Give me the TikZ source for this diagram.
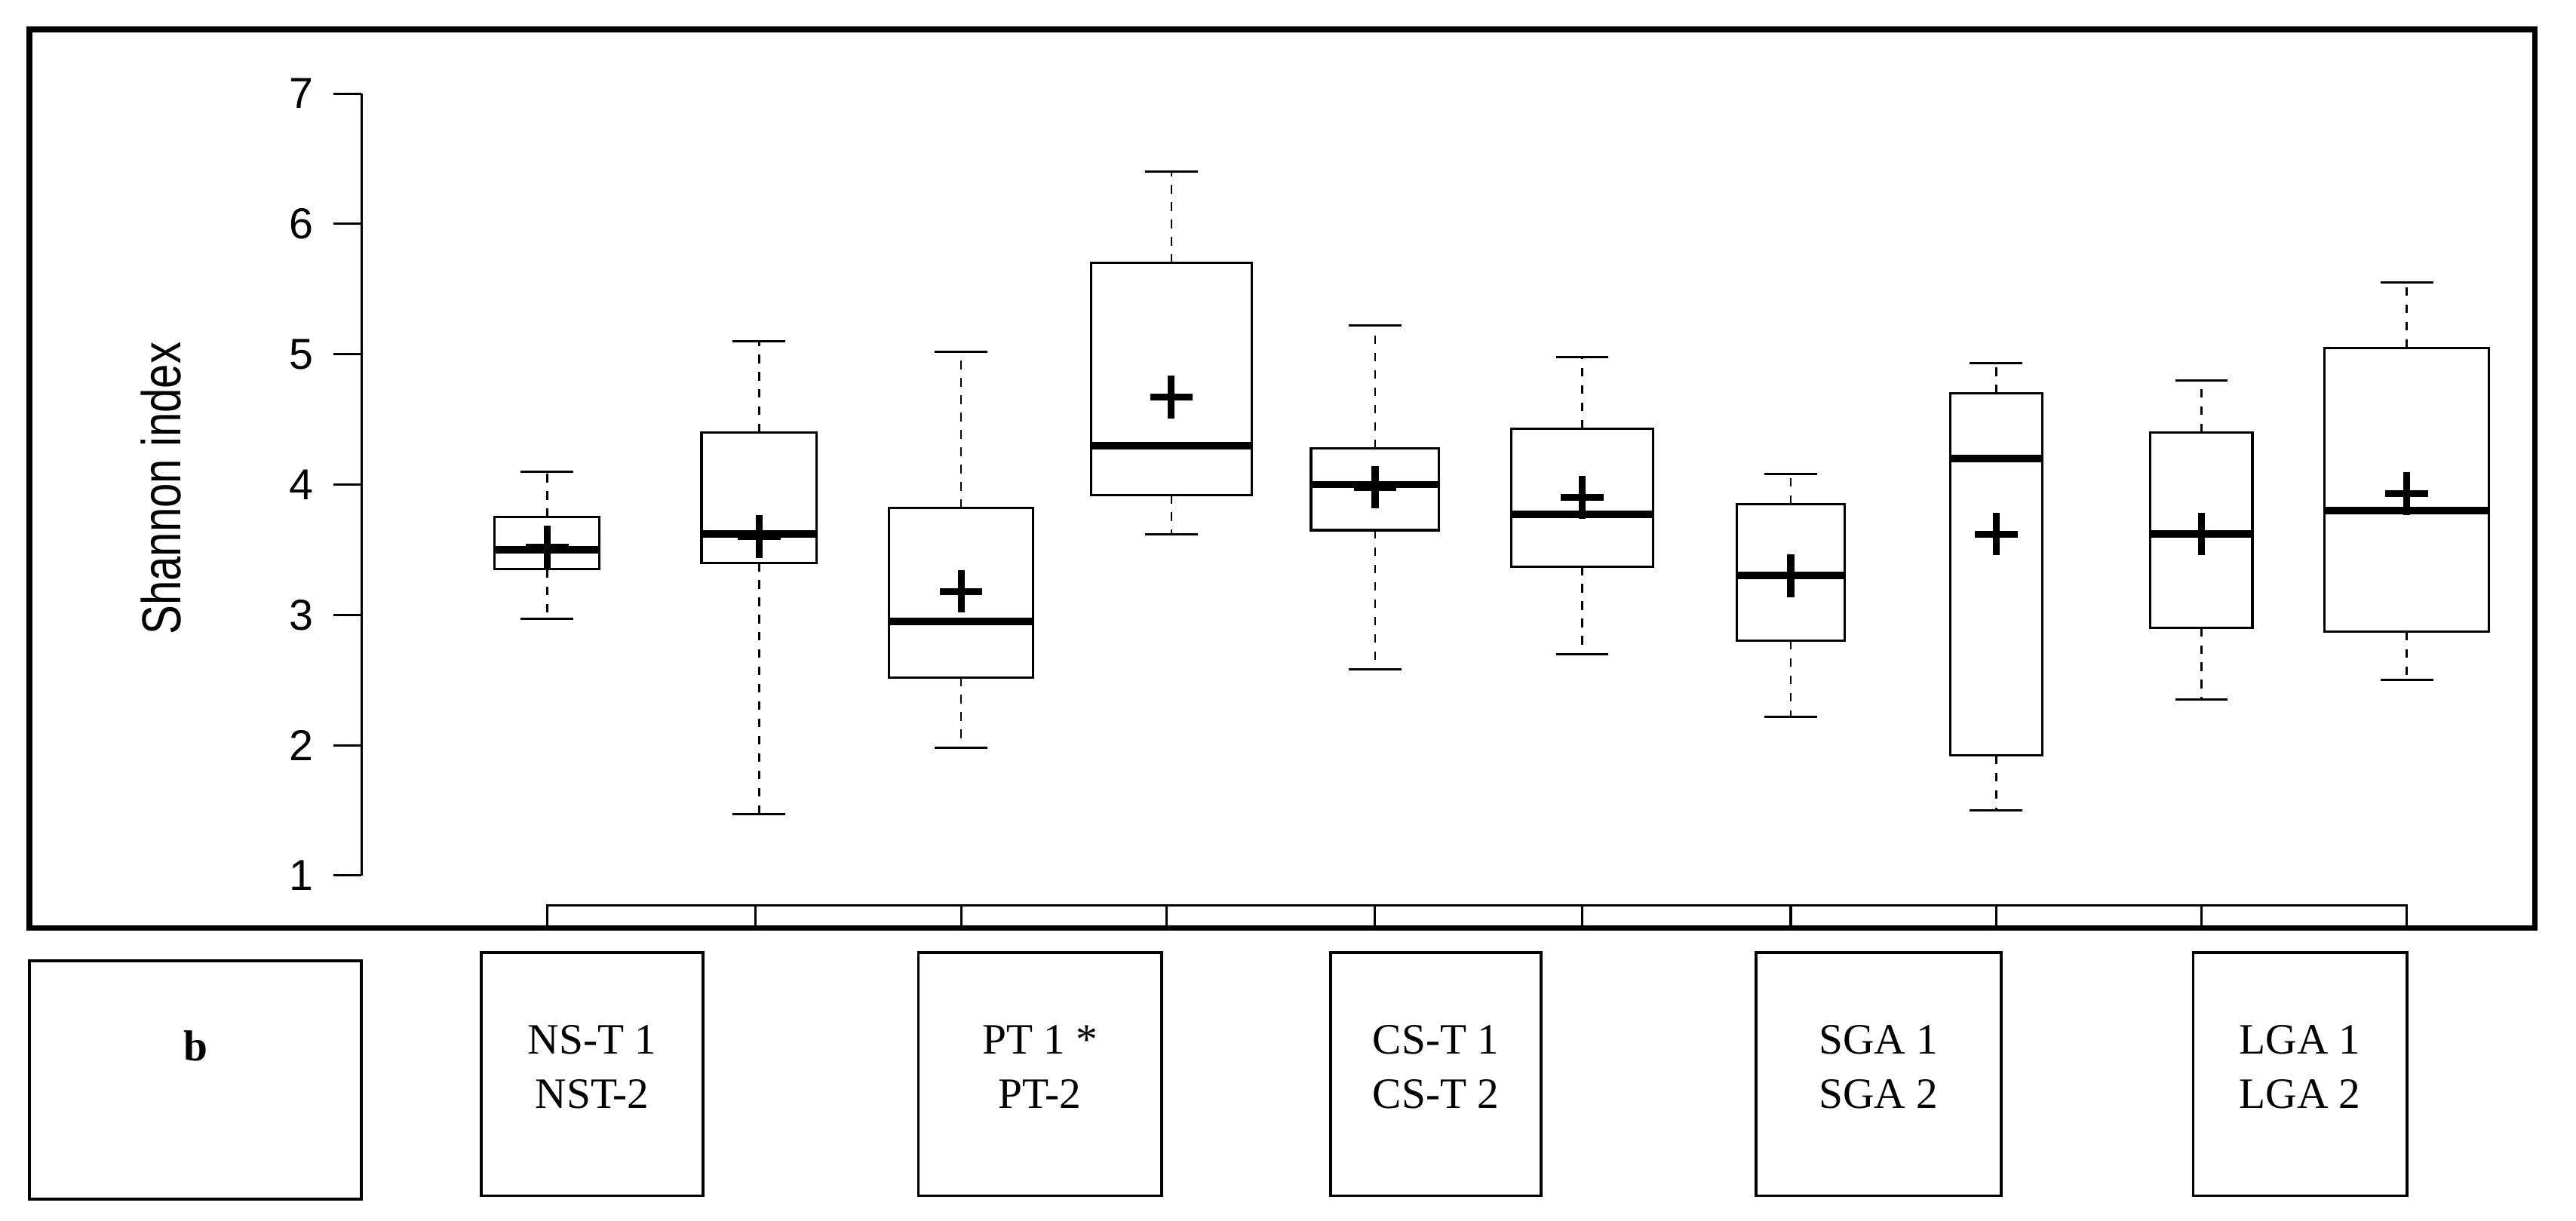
\documentclass[tikz,border=0pt]{standalone}
\usepackage{fontspec}
\setmainfont{Liberation Serif}
\setsansfont{Liberation Sans}
\begin{document}
\begin{tikzpicture}[x=0.02cm,y=-0.02cm,
  declare function={yp(\v)=533-(\v-1)*79.333;},
  bx/.style={draw,line width=0.8pt},
  lab/.style={draw,line width=1pt},
  med/.style={line width=2.6pt},
  wh/.style={dashed,line width=0.7pt},
  mn/.style={line width=2.4pt}]
\useasboundingbox (0,0) rectangle (1568,743);
\draw[line width=2pt] (18,18) rectangle (1543,565);
% axis
\draw[line width=0.8pt] (220,{yp(1)}) -- (220,{yp(7)});
\foreach \v in {1,...,7}{
  \draw[line width=0.8pt] (203,{yp(\v)}) -- (220,{yp(\v)});
  \node[font=\sffamily\fontsize{15}{15}\selectfont,anchor=east] (t\v) at (197,{yp(\v)}) {\v};
}
\node[font=\sffamily\fontsize{19}{19}\selectfont,rotate=90,xscale=0.8] (yl) at (98,{yp(3.97)}) {Shannon index};
% bottom strip
\draw[line width=0.8pt] (333,565) -- (333,551) -- (1465,551) -- (1465,565);
\foreach \x in {460,585,710,837,963,1090,1215,1340}{\draw[line width=0.8pt] (\x,551)--(\x,565);}
% boxes
\foreach \cx/\hw/\qa/\qb/\md/\mnv/\lo/\hi in {
 333/32/3.35/3.75/3.5/3.52/2.97/4.1,
 462/35/3.4/4.4/3.62/3.6/1.47/5.1,
 585/44/2.52/3.82/2.95/3.18/1.98/5.02,
 713/49/3.92/5.7/4.3/4.67/3.62/6.4,
 837/39/3.65/4.28/4.0/3.98/2.58/5.22,
 963/43/3.37/4.43/3.77/3.9/2.7/4.98,
 1090/33/2.8/3.85/3.3/3.3/2.22/4.08,
 1215/28/1.92/4.7/4.2/3.62/1.5/4.93,
 1340/31/2.9/4.4/3.62/3.62/2.35/4.8,
 1465/50/2.87/5.05/3.8/3.93/2.5/5.55}{
  \draw[wh] (\cx,{yp(\qb)}) -- (\cx,{yp(\hi)});
  \draw[wh] (\cx,{yp(\qa)}) -- (\cx,{yp(\lo)});
  \draw[line width=0.8pt] (\cx-16,{yp(\hi)}) -- (\cx+16,{yp(\hi)});
  \draw[line width=0.8pt] (\cx-16,{yp(\lo)}) -- (\cx+16,{yp(\lo)});
  \draw[bx,fill=white] (\cx-\hw,{yp(\qa)}) rectangle (\cx+\hw,{yp(\qb)});
  \draw[med] (\cx-\hw,{yp(\md)}) -- (\cx+\hw,{yp(\md)});
  \draw[mn] (\cx-13,{yp(\mnv)}) -- (\cx+13,{yp(\mnv)});
  \draw[mn] (\cx,{yp(\mnv)-13}) -- (\cx,{yp(\mnv)+13});
}
% labels
\tikzset{tx/.style={font=\fontsize{15}{15}\selectfont}}
\draw[lab] (18,585) rectangle (220,730);
\node[tx,font=\bfseries\fontsize{15}{15}\selectfont] (b) at (119,637) {b};
\foreach \xa/\xb/\ta/\tb/\n in {293/428/NS-T 1/NST-2/a,559/707/PT 1 */PT-2/b,810/938/CS-T 1/CS-T 2/c,1069/1218/SGA 1/SGA 2/d,1335/1465/LGA 1/LGA 2/e}{
  \draw[lab] (\xa,580) rectangle (\xb,728);
  \node[tx] (l\n1) at ({(\xa+\xb)/2},633) {\ta};
  \node[tx] (l\n2) at ({(\xa+\xb)/2},666) {\tb};
}
\end{tikzpicture}
\end{document}
